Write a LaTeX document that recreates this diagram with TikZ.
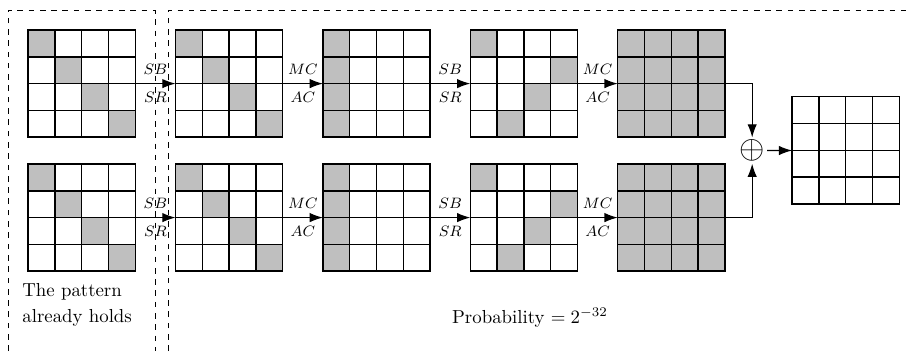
\documentclass[tikz,border=0pt]{standalone}
\usetikzlibrary{positioning,arrows.meta}

% shaded cells of a state, given as col/row from the top left
\newcommand{\fillcells}[2]{%
    \foreach \cx/\cy in {#2}
        \fill[cellfill,shift={(#1.north west)}] (\cx,-\cy) rectangle ++(1,-1);
}
% the 4x4 grid of a state
\newcommand{\drawgrid}[1]{%
    \draw[thick,step=0.5cm,shift={(#1.south west)}] (0,0) grid (3.99,3.99);
    \draw[thick] (#1.south west) rectangle (#1.north east);
}

\begin{document}
\begin{tikzpicture}[x=0.5cm,y=0.5cm]
        \tikzstyle{state}=[minimum size=2cm,inner sep=0,outer sep=0]
        \tikzstyle{cellfill}=[fill=gray!50]
        \tikzstyle{flow}=[semithick,-{Latex[length=7pt,width=5pt]}]
        \tikzstyle{lab}=[font=\footnotesize]

        \useasboundingbox (0,0) rectangle (33.96,-13.1);

        % Upper trail
        \node[state] (a1) at (3.05,-3.12) {};
        \node[state,right=0.75cm of a1] (a2) {};
        \node[state,right=0.75cm of a2] (a3) {};
        \node[state,right=0.75cm of a3] (a4) {};
        \node[state,right=0.75cm of a4] (a5) {};

        % Lower trail
        \node[state] (b1) at (3.05,-8.12) {};
        \node[state,right=0.75cm of b1] (b2) {};
        \node[state,right=0.75cm of b2] (b3) {};
        \node[state,right=0.75cm of b3] (b4) {};
        \node[state,right=0.75cm of b4] (b5) {};

        % Output state
        \node[state] (out) at (31.56,-5.61) {};

        % Active cells
        \fillcells{a1}{0/0,1/1,2/2,3/3}
        \fillcells{a2}{0/0,1/1,2/2,3/3}
        \fillcells{a3}{0/0,0/1,0/2,0/3}
        \fillcells{a4}{0/0,3/1,2/2,1/3}
        \fill[cellfill] (a5.north west) rectangle (a5.south east);
        \fillcells{b1}{0/0,1/1,2/2,3/3}
        \fillcells{b2}{0/0,1/1,2/2,3/3}
        \fillcells{b3}{0/0,0/1,0/2,0/3}
        \fillcells{b4}{0/0,3/1,2/2,1/3}
        \fill[cellfill] (b5.north west) rectangle (b5.south east);

        \foreach \s in {a1,a2,a3,a4,a5,b1,b2,b3,b4,b5,out}{
            \drawgrid{\s}
        }

        % Round functions
        \draw[flow] (a1) -- node[lab,above=1pt]{$SB$} node[lab,below=1pt]{$SR$} (a2);
        \draw[flow] (a2) -- node[lab,above=1pt]{$MC$} node[lab,below=1pt]{$AC$} (a3);
        \draw[flow] (a3) -- node[lab,above=1pt]{$SB$} node[lab,below=1pt]{$SR$} (a4);
        \draw[flow] (a4) -- node[lab,above=1pt]{$MC$} node[lab,below=1pt]{$AC$} (a5);
        \draw[flow] (b1) -- node[lab,above=1pt]{$SB$} node[lab,below=1pt]{$SR$} (b2);
        \draw[flow] (b2) -- node[lab,above=1pt]{$MC$} node[lab,below=1pt]{$AC$} (b3);
        \draw[flow] (b3) -- node[lab,above=1pt]{$SB$} node[lab,below=1pt]{$SR$} (b4);
        \draw[flow] (b4) -- node[lab,above=1pt]{$MC$} node[lab,below=1pt]{$AC$} (b5);

        % XOR of the two trails
        \node[font=\fontsize{16}{18}\selectfont,inner sep=1pt] (xor) at (28.07,-5.62) {$\oplus$};
        \draw[flow] (a5.east) -| (xor.north);
        \draw[flow] (b5.east) -| (xor.south);
        \draw[flow] (xor) -- (out);

        % Dashed regions
        \draw[dashed] (0.3,-13.1) -- (0.3,-0.37) -- (5.78,-0.37) -- (5.78,-13.1);
        \draw[dashed] (6.28,-13.1) -- (6.28,-0.37) -- (33.96,-0.37);

        \node[anchor=north west,inner sep=0,align=left] (note) at (0.82,-10.56) {The pattern\\[2pt] already holds};
        \node (prob) at (19.78,-11.87) {Probability $=2^{-32}$};
    \end{tikzpicture}
\end{document}
